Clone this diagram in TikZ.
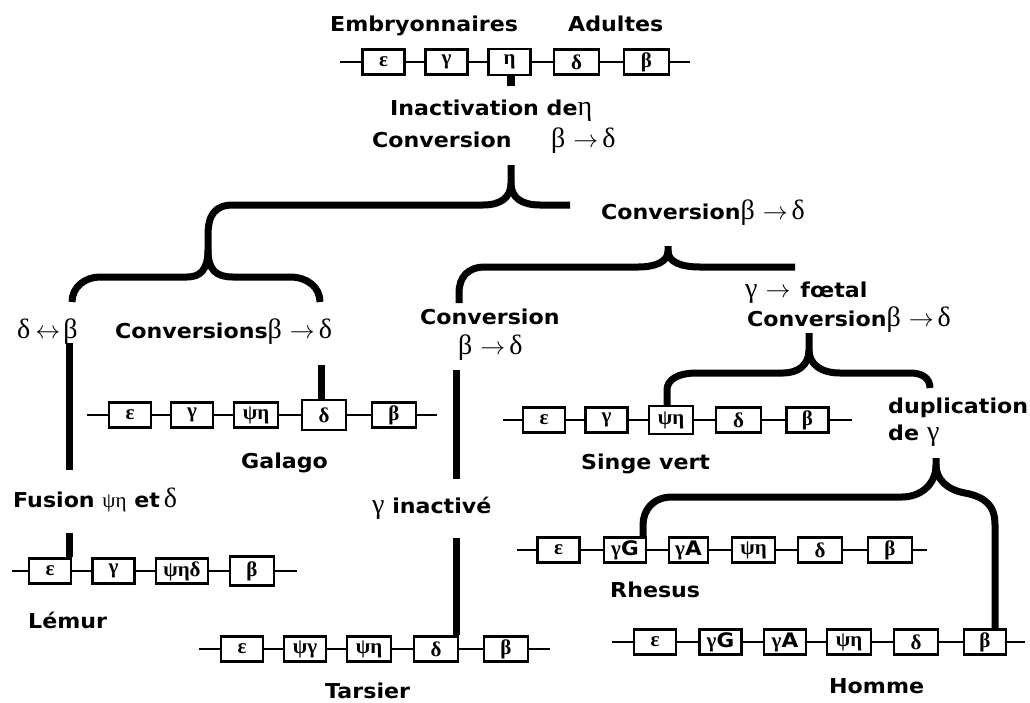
\documentclass[tikz,border=0pt]{standalone}
\usepackage{fontspec}
\setmainfont{DejaVu Sans}[FakeStretch=1.08]
\newfontfamily\gk{Liberation Serif}
\newcommand\grk[1]{{\gk\mdseries\fontsize{28}{28}\selectfont #1}}
\newcommand\arr{{\fontsize{27}{27}\selectfont$\rightarrow$}}
\newcommand\darr{{\fontsize{29}{29}\selectfont$\leftrightarrow$}}
\newcommand\latn[1]{{\rmfamily\bfseries\fontsize{20}{20}\selectfont #1}}
\newcommand\bd{\grk{β}\hspace{8pt}\arr\hspace{4pt}\grk{δ}}
\tikzset{
  gene/.style={draw, line width=2.4pt, fill=white, minimum width=42pt, minimum height=25pt,
    inner sep=0pt, font=\gk\bfseries\fontsize{21}{21}\selectfont},
  link/.style={line width=2pt},
  branch/.style={line width=7pt},
  lab/.style={anchor=base west, inner sep=0pt, font=\bfseries\fontsize{20.5}{22}\selectfont},
}
\begin{document}
\begin{tikzpicture}[x=1pt,y=-1pt]
\useasboundingbox[fill=white] (0,0) rectangle (1030,702);

% ---------- top row ----------
\coordinate (tL) at (340,62); \coordinate (tR) at (690,62);
\node[gene] (t1) at (383.5,62) {ε};
\node[gene] (t2) at (446.5,62) {γ};
\node[gene,minimum height=26pt] (t3) at (509.5,62) {η};
\node[gene,minimum width=45pt] (t4) at (576.5,62) {δ};
\node[gene,minimum width=45pt] (t5) at (646.5,62) {β};
\draw[link] (tL) -- (t1) -- (t2) -- (t3) -- (t4) -- (t5) -- (tR);
\draw[line width=8pt] ([xshift=1.5pt]t3.south) -- ++(0,10);

% ---------- Galago ----------
\coordinate (gL) at (87,415); \coordinate (gR) at (437,415);
\node[gene] (g1) at (130,415) {ε};
\node[gene] (g2) at (192,415) {γ};
\node[gene,minimum width=44pt] (g3) at (256,415) {ψη};
\node[gene,minimum width=44pt,minimum height=30pt] (g4) at (324,415) {δ};
\node[gene,minimum width=44pt] (g5) at (394,415) {β};
\draw[link] (gL) -- (g1) -- (g2) -- (g3) -- (g4) -- (g5) -- (gR);

% ---------- Lemur ----------
\coordinate (lL) at (12,571); \coordinate (lR) at (297,571);
\node[gene] (l1) at (50,571) {ε};
\node[gene] (l2) at (113.5,571) {γ};
\node[gene,minimum width=52pt] (l3) at (182,571) {ψηδ};
\node[gene,minimum width=44pt,minimum height=29pt] (l4) at (252,571) {β};
\draw[link] (lL) -- (l1) -- (l2) -- (l3) -- (l4) -- (lR);

% ---------- Tarsier ----------
\coordinate (rL) at (199,649); \coordinate (rR) at (550,649);
\node[gene] (r1) at (242,649) {ε};
\node[gene] (r2) at (305,649) {ψγ};
\node[gene,minimum width=44pt] (r3) at (369,649) {ψη};
\node[gene,minimum width=44pt] (r4) at (436,649) {δ};
\node[gene,minimum width=44pt] (r5) at (506,649) {β};
\draw[link] (rL) -- (r1) -- (r2) -- (r3) -- (r4) -- (r5) -- (rR);

% ---------- Singe vert ----------
\coordinate (sL) at (503,420); \coordinate (sR) at (852,420);
\node[gene] (s1) at (544,420) {ε};
\node[gene] (s2) at (606.5,420) {γ};
\node[gene,minimum width=44pt,minimum height=28pt] (s3) at (671,420) {ψη};
\node[gene,minimum width=45pt] (s4) at (738.5,420) {δ};
\node[gene] (s5) at (807.5,420) {β};
\draw[link] (sL) -- (s1) -- (s2) -- (s3) -- (s4) -- (s5) -- (sR);

% ---------- Rhesus ----------
\coordinate (hL) at (517,550); \coordinate (hR) at (927,550);
\node[gene] (h1) at (558.5,550) {ε};
\node[gene] (h2) at (625,550) {γ\latn{G}};
\node[gene,minimum width=39pt] (h3) at (688.5,550) {γ\latn{A}};
\node[gene,minimum width=43pt] (h4) at (753.5,550) {ψη};
\node[gene,minimum width=44pt] (h5) at (820,550) {δ};
\node[gene,minimum width=44pt] (h6) at (890,550) {β};
\draw[link] (hL) -- (h1) -- (h2) -- (h3) -- (h4) -- (h5) -- (h6) -- (hR);

% ---------- Homme ----------
\coordinate (mL) at (612,642); \coordinate (mR) at (1025,642);
\node[gene] (m1) at (655,642) {ε};
\node[gene] (m2) at (720.5,642) {γ\latn{G}};
\node[gene] (m3) at (785,642) {γ\latn{A}};
\node[gene,minimum width=44pt] (m4) at (849,642) {ψη};
\node[gene,minimum width=44pt] (m5) at (916,642) {δ};
\node[gene] (m6) at (985,642) {β};
\draw[link] (mL) -- (m1) -- (m2) -- (m3) -- (m4) -- (m5) -- (m6) -- (mR);

% ---------- labels ----------
\node[lab] (emb) at (330,31) {Embryonnaires};
\node[lab] (adu) at (568,31) {Adultes};
\node[lab] (inact) at (390,115) {Inactivation de\grk{η}};
\node[lab] (conv1) at (372,147) {Conversion};
\node[lab] (bd1) at (551,147) {\bd};
\node[lab] (conv2) at (601,219) {Conversion\bd};
\node[lab] (db) at (17,338) {\grk{δ}\hspace{5pt}\darr\hspace{3pt}\grk{β}};
\node[lab] (convs) at (115,338) {Conversions\bd};
\node[lab] (conv3) at (420,324) {Conversion};
\node[lab,text height=16pt] (bd3) at (458,354) {\bd};
\node[lab] (foetal) at (745,297) {\grk{γ}\hspace{8pt}\arr\hspace{10pt}fœtal};
\node[lab] (conv4) at (747,326) {Conversion\bd};
\node[lab] (galago) at (241,468) {Galago};
\node[lab] (fusion) at (13,507) {Fusion {\gk\mdseries\fontsize{21}{21}\selectfont ψη} et\hspace{4pt}\grk{δ}};
\node[lab] (ginact) at (372,513) {\grk{γ} inactivé};
\node[lab] (lemur) at (28,628) {Lémur};
\node[lab] (tarsier) at (325,698) {Tarsier};
\node[lab] (singe) at (581,469) {Singe vert};
\node[lab] (dup) at (888,413) {duplication};
\node[lab] (dupg) at (888,440) {de\hspace{8pt}\grk{γ}};
\node[lab] (rhesus) at (610,597) {Rhesus};
\node[lab] (homme) at (829,693) {Homme};

% ---------- tree branches ----------
\coordinate (v1) at (511,165);
\coordinate (v2) at (208,250);
\coordinate (v3) at (668,246);
\coordinate (v4) at (809,333);
\coordinate (v5) at (936,458);
\coordinate (svX) at (667,390);
\coordinate (rhX) at (643,525);
\coordinate (hoX) at (995,525);

% top brace
\draw[branch] (v1) -- (511,183) .. controls (511,198) and (500,205) .. (483,205) -- (233,205)
  .. controls (215,205) and (208,215) .. (208,235) -- (v2);
\draw[branch] (511,183) .. controls (511,198) and (522,205) .. (540,205) -- (570,205);

% Lemur / Galago brace
\draw[branch] (v2) .. controls (208,270) and (200,277) .. (187,277) -- (100,277)
  .. controls (85,277) and (72,287) .. (72,302);
\draw[branch] (v2) .. controls (208,270) and (216,277) .. (233,277) -- (290,277)
  .. controls (307,277) and (320,287) .. (320,302);

% middle brace
\draw[branch] (v3) -- (668,251) .. controls (668,262) and (655,267) .. (638,267) -- (485,267)
  .. controls (468,267) and (459,277) .. (459,293) -- (459,303);
\draw[branch] (668,251) .. controls (668,262) and (681,267) .. (700,267) -- (795,267);

% Singe vert brace
\draw[branch] (v4) -- (809,350) .. controls (809,365) and (798,373) .. (783,373) -- (697,373)
  .. controls (677,373) and (667,380) .. (svX) -- (svX |- s3.north);
\draw[branch] (809,350) .. controls (809,365) and (822,373) .. (840,373) -- (910,373)
  .. controls (922,373) and (930,378) .. (930,388);

% Rhesus / Homme brace
\draw[branch] (v5) -- (936,465) .. controls (936,485) and (920,497) .. (902,497) -- (672,497)
  .. controls (653,497) and (643,510) .. (rhX) -- (rhX |- h2.north);
\draw[branch] (936,465) .. controls (936,480) and (948,490) .. (965,493)
  .. controls (985,497) and (995,505) .. (hoX) -- (hoX |- m6.north);

% verticals
\coordinate (lemTop) at (69,343); \coordinate (lemBot) at (69,470);
\draw[branch] (lemTop) -- (lemBot);
\coordinate (lemStub) at (69,533);
\draw[branch] (lemStub) -- (lemStub |- l1.north);
\coordinate (galStub) at (321,365);
\draw[branch] (galStub) -- (galStub |- g4.north);
\coordinate (tarTop) at (456,370); \coordinate (tarMid) at (456,479);
\draw[branch] (tarTop) -- (tarMid);
\coordinate (tarStub) at (456,538);
\draw[branch] (tarStub) -- (tarStub |- r4.north);
\end{tikzpicture}
\end{document}
